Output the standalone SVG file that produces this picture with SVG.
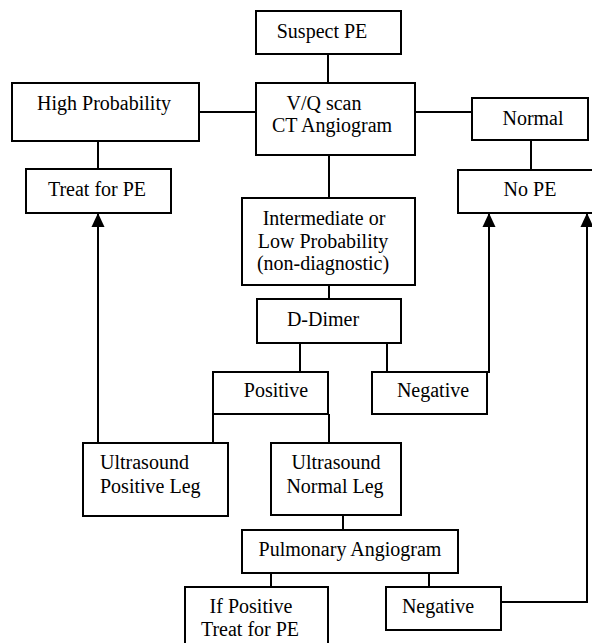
<svg xmlns="http://www.w3.org/2000/svg" width="592" height="643" viewBox="0 0 592 643">
<style>
rect{fill:#fff;stroke:#000;stroke-width:2}
text{font-family:"Liberation Serif","Times New Roman",serif;font-size:20px;fill:#000;text-anchor:middle}
.l{text-anchor:start}
#connectors path,#connectors line{stroke:#000;stroke-width:2;fill:none}
</style>
<defs>
<marker id="ah" markerWidth="14" markerHeight="15" refX="14" refY="7" orient="auto" markerUnits="userSpaceOnUse" viewBox="0 0 15 14">
<path d="M0,0 L15,7 L0,14 Z" fill="#000"/>
</marker>
</defs>
<rect x="0" y="0" width="592" height="643" style="fill:#fff;stroke:none"/>
<g id="connectors">
<line x1="328" y1="54" x2="328" y2="83"/>
<line x1="199" y1="112" x2="256" y2="112"/>
<line x1="415" y1="112" x2="472" y2="112"/>
<line x1="98" y1="141" x2="98" y2="169"/>
<line x1="531" y1="140" x2="531" y2="170"/>
<line x1="329" y1="155" x2="329" y2="198"/>
<line x1="329" y1="285" x2="329" y2="299"/>
<line x1="300" y1="343" x2="300" y2="372"/>
<line x1="387" y1="343" x2="387" y2="372"/>
<line x1="213" y1="414" x2="213" y2="443"/>
<line x1="329" y1="414" x2="329" y2="443"/>
<line x1="343" y1="515" x2="343" y2="530"/>
<line x1="271" y1="573" x2="271" y2="587"/>
<line x1="429" y1="573" x2="429" y2="587"/>
<path d="M98,443 L98,214" marker-end="url(#ah)"/>
<path d="M489,373 L489,214" marker-end="url(#ah)"/>
<path d="M501,602 L587,602 L587,214" marker-end="url(#ah)"/>
</g>
<g id="suspect"><rect x="256" y="11" width="145" height="43"/><text x="322" y="38">Suspect PE</text></g>
<g id="vq"><rect x="256" y="83" width="159" height="72"/><text x="324" y="110">V/Q scan</text><text x="332" y="132">CT Angiogram</text></g>
<g id="high"><rect x="12" y="83" width="187" height="58"/><text x="104" y="110">High Probability</text></g>
<g id="treat"><rect x="26" y="169" width="145" height="44"/><text x="97" y="196">Treat for PE</text></g>
<g id="normal"><rect x="472" y="98" width="116" height="42"/><text x="533" y="125">Normal</text></g>
<g id="nope"><rect x="458" y="170" width="145" height="43"/><text x="530" y="196">No PE</text></g>
<g id="intermediate"><rect x="242" y="198" width="173" height="87"/><text x="324" y="225">Intermediate or</text><text x="323" y="248">Low Probability</text><text x="323" y="270">(non-diagnostic)</text></g>
<g id="ddimer"><rect x="257" y="299" width="144" height="44"/><text x="323" y="326">D-Dimer</text></g>
<g id="positive"><rect x="213" y="372" width="115" height="42"/><text x="276" y="397">Positive</text></g>
<g id="negative1"><rect x="372" y="372" width="115" height="42"/><text x="433" y="397">Negative</text></g>
<g id="uspos"><rect x="83" y="443" width="145" height="73"/><text class="l" x="100" y="469">Ultrasound</text><text class="l" x="100" y="493">Positive Leg</text></g>
<g id="usnorm"><rect x="271" y="443" width="130" height="72"/><text x="336" y="469">Ultrasound</text><text x="335" y="493">Normal Leg</text></g>
<g id="pulm"><rect x="242" y="530" width="216" height="43"/><text x="350" y="556">Pulmonary Angiogram</text></g>
<g id="ifpos"><rect x="185" y="587" width="143" height="70"/><text x="251" y="613">If Positive</text><text x="250" y="636">Treat for PE</text></g>
<g id="negative2"><rect x="386" y="587" width="115" height="43"/><text x="438" y="613">Negative</text></g>
</svg>
